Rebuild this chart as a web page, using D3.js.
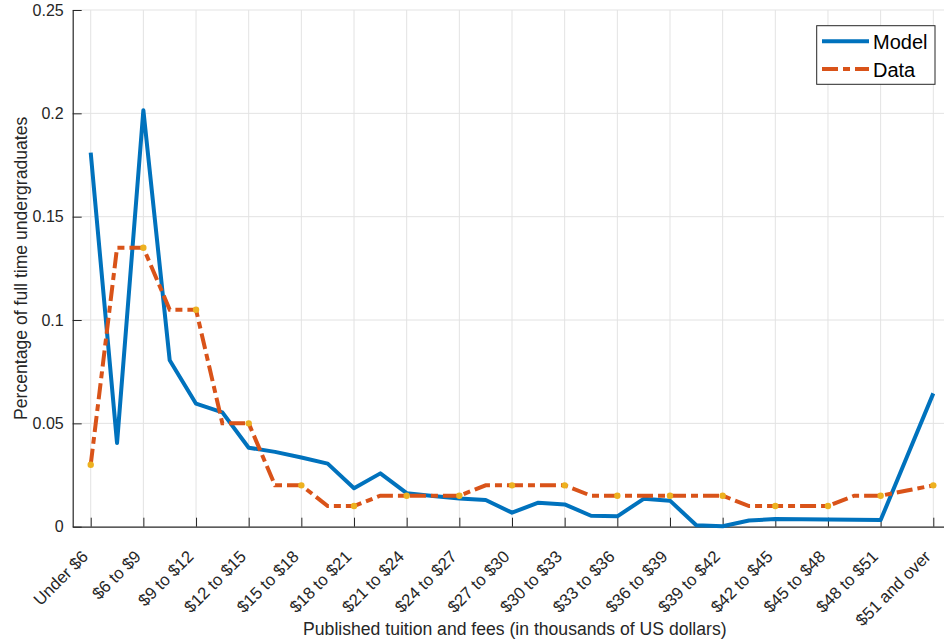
<!DOCTYPE html>
<html>
<head>
<meta charset="utf-8">
<script src="https://cdn.jsdelivr.net/npm/d3@7"></script>
<style>
  body { margin: 0; background: #fff; }
  svg { display: block; font-family: "Liberation Sans", Arial, sans-serif; }
</style>
</head>
<body>
<svg id="chart" width="944" height="643"></svg>
<script>
// Tuition bins shown on the x axis
var categories = ["Under $6", "$6 to $9", "$9 to $12", "$12 to $15", "$15 to $18",
  "$18 to $21", "$21 to $24", "$24 to $27", "$27 to $30", "$30 to $33",
  "$33 to $36", "$36 to $39", "$39 to $42", "$42 to $45", "$45 to $48",
  "$48 to $51", "$51 and over"];

// x positions of the plotted points (half steps between bins)
var xPositions = [1, 1.5, 2, 2.5, 3, 3.5, 4, 4.5, 5, 5.5, 6, 6.5, 7, 7.5, 8, 8.5, 9,
  9.5, 10, 10.5, 11, 11.5, 12, 12.5, 13, 13.5, 14, 14.5, 15, 15.5, 16, 16.5, 17];

var modelValues = [0.181, 0.0405, 0.2015, 0.0805, 0.0595, 0.0553, 0.0382, 0.0362, 0.0335,
  0.0305, 0.0186, 0.0258, 0.0162, 0.0149, 0.0137, 0.0129, 0.0068, 0.0116, 0.0108,
  0.0053, 0.0050, 0.0135, 0.0126, 0.0007, 0.0002, 0.0030, 0.0037, 0.0036, 0.0035,
  0.0034, 0.0032, 0.0338, 0.0645];

var dataValues = [0.03, 0.135, 0.135, 0.105, 0.105, 0.05, 0.05, 0.02, 0.02, 0.01, 0.01,
  0.015, 0.015, 0.015, 0.015, 0.02, 0.02, 0.02, 0.02, 0.015, 0.015, 0.015, 0.015,
  0.015, 0.015, 0.01, 0.01, 0.01, 0.01, 0.015, 0.015, 0.0175, 0.02];

var yTicks = [0, 0.05, 0.1, 0.15, 0.2, 0.25];

var svg = d3.select("#chart");

// Axes box (the right side runs past the window edge)
var plotLeft = 72.7, plotRight = 957, plotTop = 10, plotBottom = 526.7;

var x = d3.scaleLinear().domain([0.658, 17.45]).range([plotLeft, plotRight]);
var y = d3.scaleLinear().domain([0, 0.25]).range([plotBottom, plotTop]);

var axisColor = "#262626";
var gridColor = "#e3e3e3";
var dashDot = "16,5,7,5";

// grid lines
var grid = svg.append("g").attr("class", "grid");
grid.selectAll("line.vg")
  .data(categories)
  .enter().append("line")
  .attr("x1", function(d, i) { return x(i + 1); })
  .attr("x2", function(d, i) { return x(i + 1); })
  .attr("y1", plotTop).attr("y2", plotBottom)
  .style("stroke", gridColor).style("stroke-width", 1);
grid.selectAll("line.hg")
  .data(yTicks.slice(1))
  .enter().append("line")
  .attr("x1", plotLeft).attr("x2", plotRight)
  .attr("y1", function(d) { return y(d); })
  .attr("y2", function(d) { return y(d); })
  .style("stroke", gridColor).style("stroke-width", 1);

// x axis, ticks pointing inward
var xAxis = svg.append("g")
  .attr("transform", "translate(0," + plotBottom + ")")
  .call(d3.axisBottom(x)
    .tickValues(d3.range(1, categories.length + 1))
    .tickSize(-9)
    .tickSizeOuter(0)
    .tickFormat(function(d) { return categories[d - 1]; }));
xAxis.select(".domain").style("stroke", axisColor).style("stroke-width", 1.2);
xAxis.selectAll(".tick line").style("stroke", axisColor);
xAxis.selectAll(".tick text")
  .attr("fill", axisColor)
  .style("font-size", "16.8px")
  .attr("text-anchor", "end")
  .attr("dy", null)
  .attr("y", 0)
  .attr("transform", "translate(-2,31) rotate(-45)");

// y axis
var yAxis = svg.append("g")
  .attr("transform", "translate(" + plotLeft + ",0)")
  .call(d3.axisLeft(y)
    .tickValues(yTicks)
    .tickSize(-9)
    .tickSizeOuter(0)
    .tickPadding(9)
    .tickFormat(function(d) { return String(+d.toFixed(2)); }));
yAxis.select(".domain").style("stroke", axisColor).style("stroke-width", 1.2);
yAxis.selectAll(".tick line").style("stroke", axisColor);
yAxis.selectAll(".tick text").attr("fill", axisColor).style("font-size", "16px");

// axis titles
svg.append("text")
  .attr("transform", "rotate(-90)")
  .attr("x", -(plotTop + plotBottom) / 2)
  .attr("y", 26.5)
  .style("text-anchor", "middle")
  .style("font-size", "17.6px")
  .style("fill", axisColor)
  .text("Percentage of full time undergraduates");

svg.append("text")
  .attr("x", (plotLeft + plotRight) / 2)
  .attr("y", 635)
  .style("text-anchor", "middle")
  .style("font-size", "17.6px")
  .style("fill", axisColor)
  .text("Published tuition and fees (in thousands of US dollars)");

// lines
var plotArea = svg.append("g");

var line = d3.line()
  .x(function(d) { return x(d[0]); })
  .y(function(d) { return y(d[1]); });

var modelPoints = xPositions.map(function(v, i) { return [v, modelValues[i]]; });
var dataPoints = xPositions.map(function(v, i) { return [v, dataValues[i]]; });

plotArea.append("path")
  .datum(modelPoints)
  .attr("d", line)
  .style("fill", "none")
  .style("stroke", "#0072BD")
  .style("stroke-width", 4)
  .style("stroke-linejoin", "round");

plotArea.append("path")
  .datum(dataPoints)
  .attr("d", line)
  .style("fill", "none")
  .style("stroke", "#D95319")
  .style("stroke-width", 4)
  .style("stroke-dasharray", dashDot);

// markers on the data series at each bin
plotArea.selectAll("circle")
  .data(dataPoints.filter(function(d) { return Number.isInteger(d[0]); }))
  .enter().append("circle")
  .attr("cx", function(d) { return x(d[0]); })
  .attr("cy", function(d) { return y(d[1]); })
  .attr("r", 3.2)
  .style("fill", "#EDB120");

// legend
var legend = svg.append("g");
legend.append("rect")
  .attr("x", 816.7).attr("y", 25.7)
  .attr("width", 118.3).attr("height", 58.6)
  .style("fill", "#fff")
  .style("stroke", axisColor)
  .style("stroke-width", 1);

var legendItems = [
  { name: "Model", color: "#0072BD", dash: null },
  { name: "Data", color: "#D95319", dash: dashDot }
];
legendItems.forEach(function(item, i) {
  var ly = 41.3 + i * 27.7;
  legend.append("line")
    .attr("x1", 822).attr("x2", 869)
    .attr("y1", ly).attr("y2", ly)
    .style("stroke", item.color)
    .style("stroke-width", 4)
    .style("stroke-dasharray", item.dash);
  legend.append("text")
    .attr("x", 873)
    .attr("y", ly + 7.5)
    .style("font-size", "20px")
    .style("fill", "#000")
    .text(item.name);
});
</script>
</body>
</html>
